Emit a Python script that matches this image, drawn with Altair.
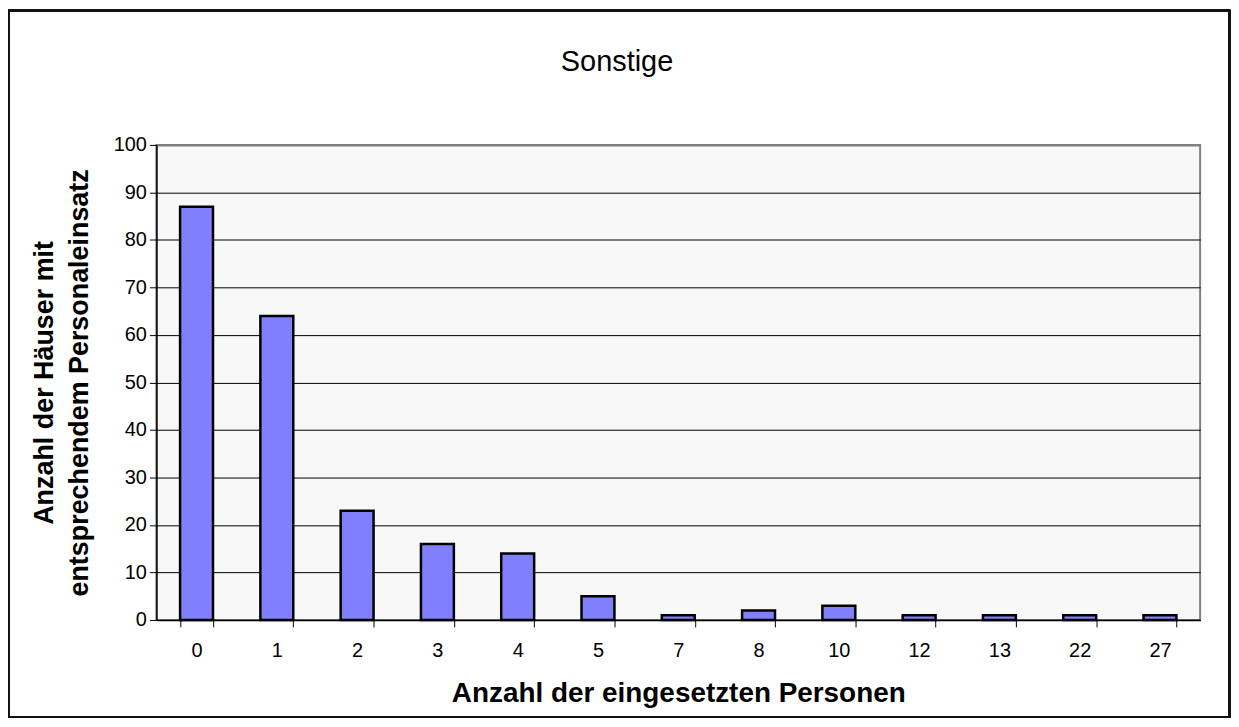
import altair as alt
import pandas as pd

categories = ["0", "1", "2", "3", "4", "5", "7", "8", "10", "12", "13", "22", "27"]
counts = [87, 64, 23, 16, 14, 5, 1, 2, 3, 1, 1, 1, 1]
y_ticks = [0, 10, 20, 30, 40, 50, 60, 70, 80, 90, 100]

df = pd.DataFrame({"personen": categories, "anzahl": counts})

FONT = "Liberation Sans"
W, H = 1048, 477

bars = alt.Chart(df).mark_bar(
    color="#8080ff", stroke="black", strokeWidth=2.5
).encode(
    x=alt.X(
        "personen:N",
        sort=categories,
        scale=alt.Scale(paddingInner=0.59, paddingOuter=0.295),
        axis=alt.Axis(
            title="Anzahl der eingesetzten Personen",
            titleFont=FONT, titleFontSize=28, titleFontWeight="bold", titleColor="black",
            titleBaseline="alphabetic", titleY=82, titleX=W / 2,
            labelAngle=0, labelFont=FONT, labelFontSize=20, labelColor="black",
            labelPadding=14,
            tickBand="extent", tickSize=7, tickColor="black", tickWidth=1,
            domainColor="black", domainWidth=1.5,
            grid=False,
        ),
    ),
    y=alt.Y(
        "anzahl:Q",
        scale=alt.Scale(domain=[0, 100], nice=False),
        axis=alt.Axis(
            title=["Anzahl der Häuser mit", "entsprechendem Personaleinsatz"],
            titleFont=FONT, titleFontSize=27, titleFontWeight="bold", titleColor="black",
            titleAngle=-90, titleBaseline="alphabetic", titleLineHeight=35,
            titleX=-104, titleY=H / 2, titleAlign="center",
            values=y_ticks,
            labelFont=FONT, labelFontSize=20, labelColor="black", labelPadding=3,
            tickSize=7, tickColor="black", tickWidth=1,
            domainColor="black", domainWidth=1.5,
            grid=True,
            gridColor={"condition": {"test": "datum.value == 100", "value": "#808080"}, "value": "black"},
            gridWidth={"condition": {"test": "datum.value == 100", "value": 2}, "value": 1},
        ),
    ),
)

border = alt.Chart(df).mark_rect(
    fill=None, stroke="#111111", strokeWidth=1.5
).encode(
    x=alt.value(-148.5), x2=alt.value(1077.5),
    y=alt.value(-135), y2=alt.value(574.5),
)

chart = alt.layer(border, bars).properties(
    width=W, height=H,
    title=alt.TitleParams(
        "Sonstige", font=FONT, fontSize=29, fontWeight="normal", color="black",
        anchor="middle", baseline="alphabetic", offset=-91, dx=-61.5,
    ),
    autosize=alt.AutoSizeParams(type="none"),
    padding={"left": 149, "top": 136, "right": 31, "bottom": 98},
    background="white",
).configure_view(
    fill="#f8f8f8", stroke="#808080", strokeWidth=2
)

chart.save("out.html", embed_options={"renderer": "svg", "actions": False})
